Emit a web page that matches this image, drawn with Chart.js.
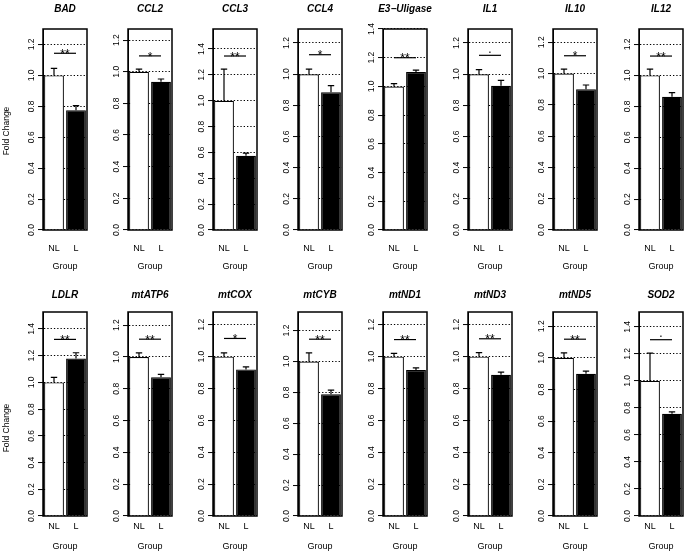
<!DOCTYPE html>
<html><head><meta charset="utf-8">
<script src="https://cdn.jsdelivr.net/npm/chart.js@4"></script>
<style>
html,body{margin:0;padding:0;background:#fff;}
#wrap{position:relative;width:686px;height:559px;overflow:hidden;background:#fff;}
canvas{position:absolute;}
</style>
</head><body><div id="wrap"></div>
<script>
// ---- data ----
const genes = ['BAD','CCL2','CCL3','CCL4','E3\u2212Uligase','IL1','IL10','IL12',
               'LDLR','mtATP6','mtCOX','mtCYB','mtND1','mtND3','mtND5','SOD2'];
const groups = ['NL','L'];
const nlMean = [1,1,1,1,1,1,1,1, 1,1,1,1,1,1,1,1];
const nlSE   = [0.045,0.017,0.245,0.032,0.019,0.029,0.029,0.040, 0.038,0.026,0.024,0.056,0.021,0.025,0.031,0.206];
const lMean  = [0.775,0.937,0.575,0.884,1.100,0.926,0.900,0.862, 1.178,0.872,0.920,0.787,0.916,0.886,0.899,0.757];
const lSE    = [0.029,0.017,0.020,0.042,0.014,0.034,0.027,0.026, 0.044,0.019,0.016,0.028,0.013,0.017,0.017,0.014];
const yMax   = [1.30,1.27,1.555,1.29,1.40,1.29,1.285,1.30, 1.527,1.283,1.28,1.32,1.28,1.28,1.29,1.51];
const bracketY = [1.143,1.10,1.346,1.125,1.20,1.121,1.114,1.125, 1.322,1.112,1.114,1.144,1.107,1.112,1.118,1.305];
const sig    = ['**','*','**','*','**','.','*','**', '**','**','*','**','**','**','**','.'];
const yStep  = 0.2;
const yTitle = 'Fold Change';
const xTitle = 'Group';

// ---- layout ----
const FONT = '"Liberation Sans", Arial, Helvetica, sans-serif';
const colLeft = [43,128,213,298,383,468,553,639];
const rows = [
  {top:0,   padTop:29, xH:50, xPad:13,  titleY:9.3,  foldY:131},
  {top:280, padTop:32, xH:44, xPad:5.3, titleY:15.5, foldY:148}
];
const AXW = 43, BOXW = 44, PADR = 14, CW = AXW + BOXW + PADR, CH = 280;

const deco = {
  id: 'deco',
  afterDatasetsDraw(chart, args, p) {
    const {ctx, chartArea: a} = chart;
    const x = chart.scales.x, y = chart.scales.y;
    ctx.save();
    ctx.strokeStyle = '#000';
    ctx.fillStyle = '#000';
    // error bars (upper only)
    ctx.lineWidth = 1.2;
    p.means.forEach((m, i) => {
      const cx = x.getPixelForValue(i);
      const y0 = y.getPixelForValue(m), y1 = y.getPixelForValue(m + p.ses[i]);
      ctx.beginPath();
      ctx.moveTo(cx, y0); ctx.lineTo(cx, y1);
      ctx.moveTo(cx - 3.2, y1); ctx.lineTo(cx + 3.2, y1);
      ctx.stroke();
    });
    // significance bracket
    const by = y.getPixelForValue(p.bracket);
    const x0 = x.getPixelForValue(0), x1 = x.getPixelForValue(1);
    ctx.lineWidth = 1.2;
    ctx.beginPath(); ctx.moveTo(x0, by); ctx.lineTo(x1, by); ctx.stroke();
    ctx.font = '12px ' + FONT;
    ctx.textAlign = 'center';
    ctx.textBaseline = 'alphabetic';
    ctx.fillText(p.sig, (x0 + x1) / 2, p.sig === '.' ? by - 2.5 : by + 4.6);
    // box
    ctx.lineWidth = 1.5;
    ctx.strokeRect(a.left, a.top, a.right - a.left, a.bottom - a.top);
    // panel title
    ctx.font = 'italic bold 10px ' + FONT;
    ctx.textBaseline = 'middle';
    ctx.fillText(p.title, (a.left + a.right) / 2, p.titleY);
    // y-axis title on first column
    if (p.fold) {
      ctx.font = '8.5px ' + FONT;
      ctx.translate(7, p.foldY);
      ctx.rotate(-Math.PI / 2);
      ctx.fillText(yTitle, 0, 0);
    }
    ctx.restore();
  }
};

const wrap = document.getElementById('wrap');
genes.forEach((g, k) => {
  const r = Math.floor(k / 8), c = k % 8;
  const row = rows[r];
  const cv = document.createElement('canvas');
  cv.width = CW; cv.height = CH;
  cv.style.left = (colLeft[c] - AXW) + 'px';
  cv.style.top = row.top + 'px';
  cv.style.width = CW + 'px'; cv.style.height = CH + 'px';
  wrap.appendChild(cv);
  new Chart(cv, {
    type: 'bar',
    data: {
      labels: groups,
      datasets: [{
        data: [nlMean[k], lMean[k]],
        backgroundColor: ['#ffffff', '#000000'],
        borderColor: '#000000',
        borderWidth: 1.2,
        barPercentage: 0.9,
        categoryPercentage: 1.0
      }]
    },
    options: {
      responsive: false,
      animation: false,
      devicePixelRatio: 1,
      layout: {padding: {top: row.padTop, right: PADR, left: 0, bottom: 0}},
      plugins: {
        legend: {display: false},
        tooltip: {enabled: false},
        title: {display: false},
        deco: {
          means: [nlMean[k], lMean[k]], ses: [nlSE[k], lSE[k]],
          bracket: bracketY[k], sig: sig[k], title: g,
          titleY: row.titleY, fold: c === 0, foldY: row.foldY
        }
      },
      scales: {
        x: {
          grid: {display: false, drawTicks: false},
          border: {display: false},
          ticks: {color: '#000', font: {family: FONT, size: 9}, padding: row.xPad, maxRotation: 0},
          title: {display: true, text: xTitle, color: '#000', font: {family: FONT, size: 9}, padding: {top: 0, bottom: 7.9}},
          afterFit: s => { s.height = row.xH; }
        },
        y: {
          min: 0, max: yMax[k],
          grid: {color: '#000', lineWidth: 1.1, tickLength: 5, tickColor: '#000', tickWidth: 1, tickBorderDash: []},
          border: {display: true, color: '#000', width: 1, dash: [1.3, 2]},
          ticks: {
            stepSize: yStep, includeBounds: false, color: '#000',
            font: {family: FONT, size: 8.5},
            minRotation: 90, maxRotation: 90, crossAlign: 'center', padding: 0,
            callback: v => Number(v).toFixed(1)
          },
          afterFit: s => { s.width = AXW; }
        }
      }
    },
    plugins: [deco]
  });
});
</script>
</body></html>
